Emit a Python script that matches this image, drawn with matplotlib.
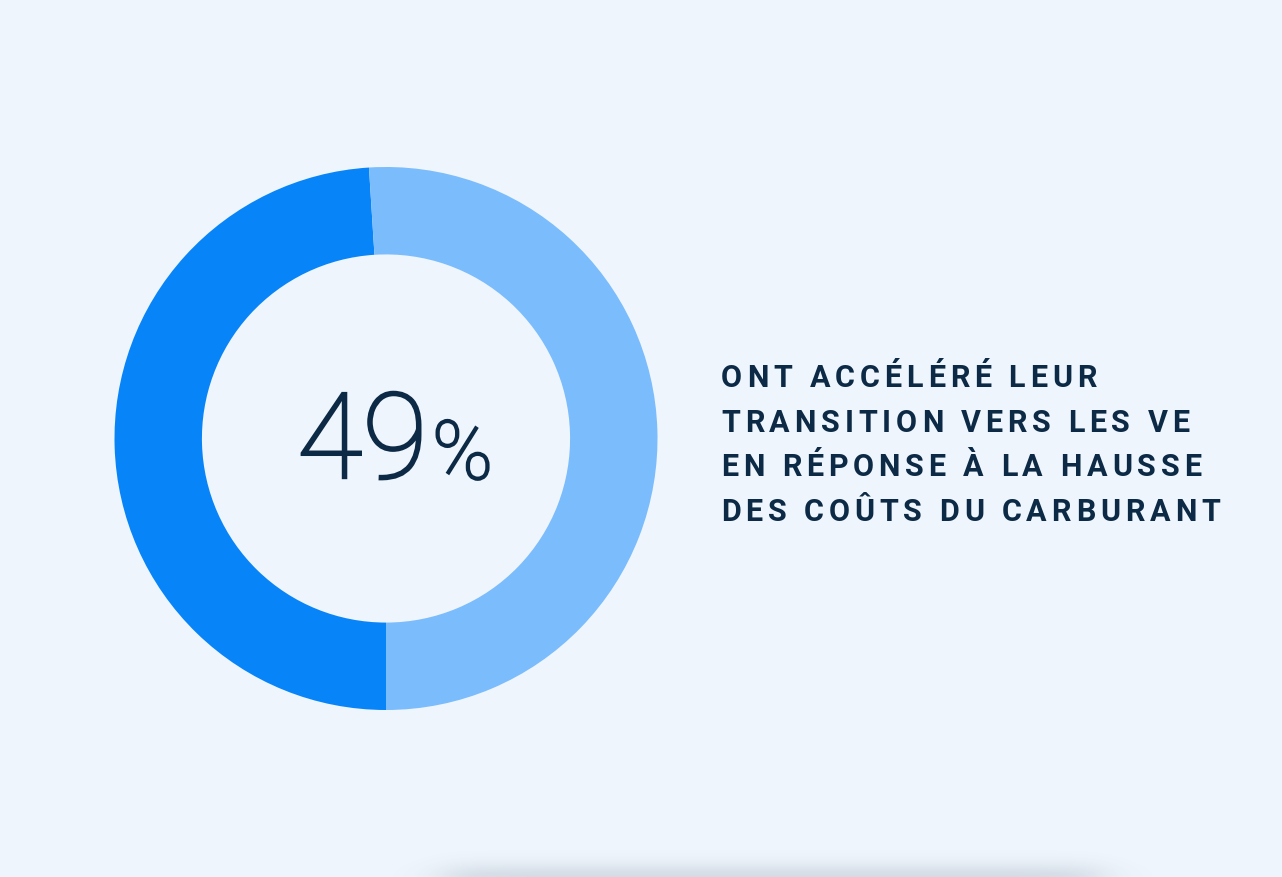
import numpy as np
import matplotlib
matplotlib.use("Agg")
import matplotlib.pyplot as plt
import matplotlib.patheffects as pe
from matplotlib.font_manager import FontProperties

# donnees
valeurs = [49, 51]
couleurs = ["#0784F8", "#7ABCFC"]
pourcentage = "49"
texte = ["ONT ACCÉLÉRÉ LEUR",
         "TRANSITION VERS LES VE",
         "EN RÉPONSE À LA HAUSSE",
         "DES COÛTS DU CARBURANT"]

fond = "#EEF5FC"
encre = "#0C2A45"
W, H = 1282, 877

fig = plt.figure(figsize=(W / 100, H / 100), dpi=100, facecolor=fond)

# ombre floue en bas (carte suivante)
ax_bg = fig.add_axes([0, 0, 1, 1])
ax_bg.set_axis_off()
yy, xx = np.mgrid[0:H, 0:W]
ay = np.exp(-((H - yy) / 14.0) ** 2)
ax_ = 1 / (1 + np.exp(-(xx - 445) / 14.0)) * 1 / (1 + np.exp((xx - 1100) / 14.0))
alpha = 0.17 * ay * ax_
img = np.zeros((H, W, 4))
img[..., 0], img[..., 1], img[..., 2] = 0.33, 0.38, 0.47
img[..., 3] = alpha
ax_bg.imshow(img, extent=[0, W, H, 0], aspect="auto")
ax_bg.set_xlim(0, W)
ax_bg.set_ylim(H, 0)

# anneau
cx, cy, r = 386, 438.5, 271.5
ax = fig.add_axes([(cx - r) / W, (H - cy - r) / H, 2 * r / W, 2 * r / H])
ax.pie(valeurs, colors=couleurs, startangle=-90, counterclock=False,
       radius=1, wedgeprops=dict(width=0.322, linewidth=0))
ax.set_xlim(-1, 1)
ax.set_ylim(-1, 1)
ax.set_aspect("equal")
ax.set_axis_off()

# grand pourcentage (graisse fine epaissie un peu)
epais = [pe.withStroke(linewidth=1.7, foreground=encre,
                       capstyle="butt", joinstyle="miter")]
fig.text(297 / W, 1 - 478 / H, pourcentage, fontsize=86, family="Roboto",
         fontweight="light", color=encre, ha="left", va="baseline",
         path_effects=epais)
fig.text(432 / W, 1 - 479 / H, "%", fontsize=59, family="Roboto",
         fontweight="light", color=encre, ha="left", va="baseline",
         path_effects=[pe.withStroke(linewidth=1.5, foreground=encre,
                                     capstyle="butt", joinstyle="miter")])

# texte a droite avec espacement des lettres
renderer = fig.canvas.get_renderer()
prop = FontProperties(family="Roboto", weight="bold", size=22)


def largeur(s):
    if not s:
        return 0.0
    w, h, d = renderer.get_text_width_height_descent(s, prop, ismath=False)
    return w


x0 = 721
ligne_ref = texte[3]
esp = (499 - largeur(ligne_ref)) / (len(ligne_ref) - 1)
for i, ligne in enumerate(texte):
    base = 387 + i * 44.6
    for j, ch in enumerate(ligne):
        if ch == " ":
            continue
        x = x0 + largeur(ligne[:j]) + j * esp
        fig.text(x / W, 1 - base / H, ch, fontproperties=prop, color=encre,
                 ha="left", va="baseline")

fig.savefig("out.png", dpi=100, facecolor=fond)
